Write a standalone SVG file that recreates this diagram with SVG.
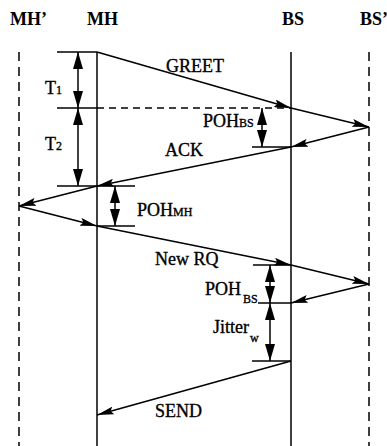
<svg xmlns="http://www.w3.org/2000/svg" width="387" height="446" viewBox="0 0 387 446">
<style>
.t{font-family:"Liberation Serif","Times New Roman",serif;font-size:18px;fill:#000;stroke:#000;stroke-width:0.35}
.h{font-weight:bold;stroke-width:0}
.s{font-size:12px}
.solid{stroke:#000;stroke-width:1.5;fill:none}
.dash{stroke:#000;stroke-width:1.5;fill:none;stroke-dasharray:9,6}
.hdash{stroke:#000;stroke-width:1.5;fill:none;stroke-dasharray:7,5}
.msg{stroke:#000;stroke-width:1.5;fill:none;marker-end:url(#ah)}
.dbl{stroke:#000;stroke-width:1.5;fill:none;marker-start:url(#vh);marker-end:url(#vh)}
</style>
<defs>
<marker id="ah" viewBox="0 0 17 8" refX="17" refY="4" markerWidth="17" markerHeight="8" markerUnits="userSpaceOnUse" orient="auto">
<path d="M0,0 L17,4 L0,8 L3,4 z" fill="#000"/>
</marker>
<marker id="vh" viewBox="0 0 17 10" refX="17" refY="5" markerWidth="17" markerHeight="10" markerUnits="userSpaceOnUse" orient="auto-start-reverse">
<path d="M0,0 L17,5 L0,10 z" fill="#000"/>
</marker>
</defs>
<rect width="387" height="446" fill="#fff"/>
<g id="MHp">
<text class="t h" x="10" y="25">MH’</text>
<line class="dash" x1="19" y1="52" x2="19" y2="446"/>
</g>
<g id="MH">
<text class="t h" x="87" y="25">MH</text>
<line class="solid" x1="97" y1="52" x2="97" y2="446"/>
</g>
<g id="BS">
<text class="t h" x="282" y="25">BS</text>
<line class="solid" x1="291" y1="52" x2="291" y2="446"/>
</g>
<g id="BSp">
<text class="t h" x="360" y="25">BS’</text>
<line class="dash" x1="369" y1="52" x2="369" y2="446"/>
</g>
<g id="ticks">
<line class="solid" x1="57" y1="52" x2="97" y2="52"/>
<line class="solid" x1="57" y1="108" x2="97" y2="108"/>
<line class="hdash" x1="97" y1="108" x2="291" y2="108"/>
<line class="solid" x1="252" y1="147" x2="291" y2="147"/>
<line class="solid" x1="57" y1="186" x2="135" y2="186"/>
<line class="solid" x1="97" y1="226" x2="135" y2="226"/>
<line class="solid" x1="253" y1="265" x2="291" y2="265"/>
<line class="solid" x1="258" y1="303" x2="291" y2="303"/>
<line class="solid" x1="252" y1="361" x2="291" y2="361"/>
</g>
<g id="intervals">
<line class="dbl" x1="78" y1="52" x2="78" y2="108"/>
<line class="dbl" x1="78" y1="108" x2="78" y2="186"/>
<line class="dbl" x1="262" y1="108" x2="262" y2="147"/>
<line class="dbl" x1="115" y1="186" x2="115" y2="226"/>
<line class="dbl" x1="270" y1="265" x2="270" y2="303"/>
<line class="dbl" x1="270" y1="303" x2="270" y2="361"/>
<text class="t" x="45" y="94">T<tspan class="s">1</tspan></text>
<text class="t" x="45" y="150">T<tspan class="s">2</tspan></text>
<text class="t" x="203" y="127">POH<tspan class="s">BS</tspan></text>
<text class="t" x="137" y="216">POH<tspan class="s">MH</tspan></text>
<text class="t" x="205" y="295">POH<tspan class="s" dx="2" dy="8">BS</tspan></text>
<text class="t" x="213" y="333">Jitter<tspan class="s" dx="1" dy="9">w</tspan></text>
</g>
<g id="connectors">
<line class="msg" x1="97" y1="52" x2="291" y2="108"/>
<line class="msg" x1="291" y1="108" x2="369" y2="127"/>
<line class="msg" x1="369" y1="127" x2="291" y2="147"/>
<line class="msg" x1="291" y1="147" x2="97" y2="186"/>
<line class="msg" x1="97" y1="186" x2="19" y2="206"/>
<line class="msg" x1="19" y1="206" x2="97" y2="226"/>
<line class="msg" x1="97" y1="226" x2="291" y2="265"/>
<line class="msg" x1="291" y1="265" x2="369" y2="284"/>
<line class="msg" x1="369" y1="284" x2="291" y2="303"/>
<line class="msg" x1="291" y1="361" x2="97" y2="415"/>
<text class="t" x="166" y="72">GREET</text>
<text class="t" x="165" y="156">ACK</text>
<text class="t" x="155" y="265">New RQ</text>
<text class="t" x="155" y="417">SEND</text>
</g>
</svg>
